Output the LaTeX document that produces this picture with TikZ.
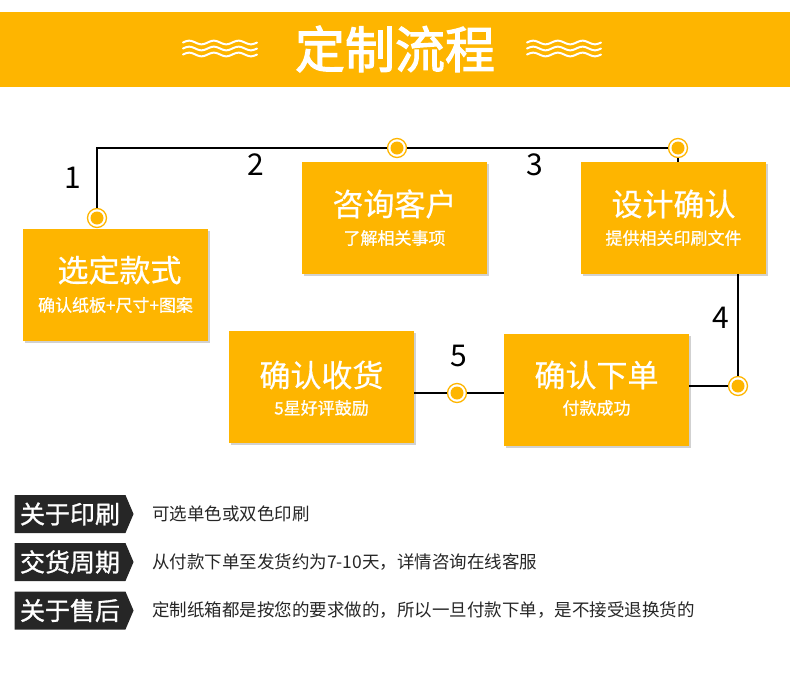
\documentclass[tikz,border=0pt]{standalone}
\usepackage{fontspec}
\setmainfont{Noto Sans CJK SC}
\newfontfamily\titlefont{Noto Sans CJK SC}[FakeBold=2.2]
\newfontfamily\tagfont{Noto Sans CJK SC}[FakeBold=1.2]
\newfontfamily\subfont{Noto Sans CJK SC}[FakeBold=0.9]
\newfontfamily\headfont{Noto Sans CJK SC}[FakeBold=0.5]
\usepackage{tikz}
\usetikzlibrary{positioning,shapes.symbols,shadows}

\definecolor{brand}{RGB}{254,181,0}
\definecolor{tagdark}{RGB}{38,38,38}

\begin{document}
\begin{tikzpicture}[
    x=1pt, y=-1pt,
    card/.style={fill=brand, minimum width=185pt, minimum height=112pt, inner sep=0pt,
      drop shadow={shadow xshift=2pt, shadow yshift=-2pt, opacity=0.18, fill=black}},
    headtxt/.style={text=white, font=\headfont\fontsize{31}{31}\selectfont, inner sep=0pt},
    subtxt/.style={text=white, font=\subfont\fontsize{17}{17}\selectfont, inner sep=0pt},
    marker/.style={circle, draw=brand, line width=1.3pt, fill=white, minimum size=19pt,
      inner sep=0pt, path picture={\fill[brand] (path picture bounding box.center) circle (6.5pt);}},
    num/.style={font=\fontsize{30}{30}\selectfont, inner sep=0pt},
    link/.style={line width=1.2pt, black},
    tag/.style={signal, signal to=east, signal pointer angle=134, fill=tagdark, text=white,
      minimum width=119pt, minimum height=38pt, inner sep=0pt,
      font=\tagfont\fontsize{25}{25}\selectfont},
    note/.style={anchor=west, inner sep=0pt, text=black!85, font=\fontsize{17.5}{17.5}\selectfont},
    wave/.style={white, line width=2pt, line cap=round}
  ]
    \useasboundingbox (0,0) rectangle (790,683);

    % banner
    \fill[brand] (0,12) rectangle (790,87);
    \node[text=white, font=\titlefont\fontsize{50}{50}\selectfont, inner sep=0pt] (banner) at (395,49) {定制流程};
    \foreach \wx in {183,527}
      \foreach \dy in {42.5,48.5,54.5}
        \draw[wave] plot[domain=0:74, samples=60] ({\wx+\x},{\dy-1.8*sin((\x/24.7)*360)});

    % steps
    \node[card] (pick) at (115.5,285) {};
    \node[card] (ask) at (394.5,218) {};
    \node[card] (design) at (673.5,218) {};
    \node[card] (order) at (596.5,390) {};
    \node[card] (receive) at (321.5,387) {};

    \node[headtxt] at ([xshift=4pt,yshift=15pt]pick.center) {选定款式};
    \node[subtxt] at ([yshift=-20pt]pick.center) {确认纸板+尺寸+图案};
    \node[headtxt] at ([yshift=14pt]ask.center) {咨询客户};
    \node[subtxt] at ([yshift=-20pt]ask.center) {了解相关事项};
    \node[headtxt] at ([yshift=14pt]design.center) {设计确认};
    \node[subtxt] at ([yshift=-20pt]design.center) {提供相关印刷文件};
    \node[headtxt] at ([yshift=15pt]order.center) {确认下单};
    \node[subtxt] at ([yshift=-18pt]order.center) {付款成功};
    \node[headtxt] at ([yshift=12pt]receive.center) {确认收货};
    \node[subtxt] at ([yshift=-21pt]receive.center) {5星好评鼓励};

    % markers and links
    \node[marker] (m1) at (97,218) {};
    \node[marker] (m2) at (397,148) {};
    \node[marker] (m3) at (678,148) {};
    \node[marker] (m4) at (738,386) {};
    \node[marker] (m5) at (457,393) {};

    \draw[link] (m1) -- (m1 |- m2) -- (m2);
    \draw[link] (m2) -- (m3);
    \draw[link] (m3) -- (m3 |- design.north);
    \draw[link] (m4 |- design.south) -- (m4);
    \draw[link] (m4) -- (m4 -| order.east);
    \draw[link] (m5 -| receive.east) -- (m5);
    \draw[link] (m5) -- (m5 -| order.west);

    \node[num] (n1) at (73,178) {1};
    \node[num] (n2) at (256,165) {2};
    \node[num] (n3) at (535,165) {3};
    \node[num] (n4) at (721,318) {4};
    \node[num] (n5) at (459,356) {5};

    % notes
    \node[tag] (print) at (70,514) {关于印刷};
    \node[tag] (cycle) at (70,562) {交货周期};
    \node[tag] (after) at (70,610.5) {关于售后};
    \node[note] at (152,514) {可选单色或双色印刷};
    \node[note] at (152,562) {从付款下单至发货约为7-10天，详情咨询在线客服};
    \node[note] at (152,610.5) {定制纸箱都是按您的要求做的，所以一旦付款下单，是不接受退换货的};
  \end{tikzpicture}
\end{document}
